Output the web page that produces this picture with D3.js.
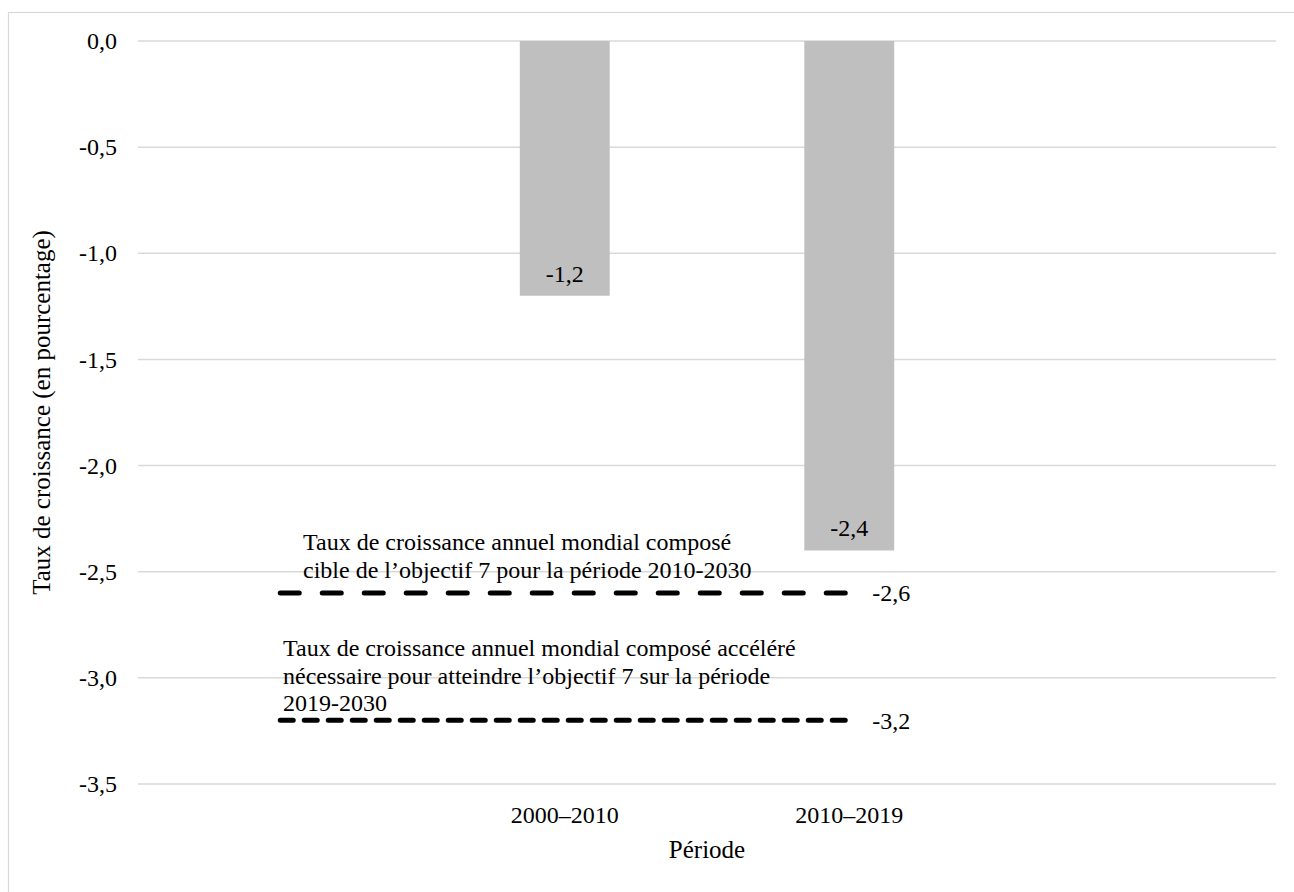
<!DOCTYPE html>
<html lang="fr">
<head>
    <meta charset="UTF-8">
    <title>Taux de croissance</title>
    <script src="https://d3js.org/d3.v7.min.js"></script>
    <style>
        body {
            margin: 0;
            background-color: white;
        }
        .grid line {
            stroke: #d9d9d9;
            stroke-width: 1.5;
        }
    </style>
</head>
<body>
    <div id="chart"></div>

    <script>
        // categories (the first and last slots are empty in the original)
        const categories = ["", "2000–2010", "2010–2019", " "];
        const barValues = [null, -1.2, -2.4, null];
        const target2030 = [-2.6, -2.6, -2.6, null];
        const accelerated = [-3.2, -3.2, -3.2, null];
        const yTicks = [0, -0.5, -1, -1.5, -2, -2.5, -3, -3.5];

        const note1 = ["Taux de croissance annuel mondial composé",
                       "cible de l’objectif 7 pour la période 2010-2030"];
        const note2 = ["Taux de croissance annuel mondial composé accéléré",
                       "nécessaire pour atteindre l’objectif 7 sur la période",
                       "2019-2030"];

        const FONT = "'Liberation Serif', 'Times New Roman', 'DejaVu Serif', serif";
        const width = 1294, height = 892;
        const plot = { left: 138, right: 1276, top: 41, bottom: 784 };
        const fmt = v => d3.format(".1f")(v).replace(".", ",").replace("−", "-");

        const svg = d3.select("#chart")
            .append("svg")
            .attr("width", width)
            .attr("height", height)
            .style("font-family", FONT);

        // chart border
        svg.append("rect")
            .attr("x", 8.5)
            .attr("y", 12.5)
            .attr("width", 1290)
            .attr("height", 900)
            .attr("fill", "none")
            .attr("stroke", "#d9d9d9")
            .attr("stroke-width", 1.2);

        const x = d3.scaleBand()
            .domain(d3.range(categories.length))
            .range([plot.left, plot.right])
            .paddingInner(0.684)
            .paddingOuter(0.342);

        const y = d3.scaleLinear()
            .domain([0, -3.5])
            .range([plot.top, plot.bottom]);

        const cx = i => x(i) + x.bandwidth() / 2;

        // gridlines
        svg.append("g")
            .attr("class", "grid")
            .selectAll("line")
            .data(yTicks)
            .join("line")
            .attr("x1", plot.left)
            .attr("x2", plot.right)
            .attr("y1", d => y(d))
            .attr("y2", d => y(d));

        // y axis labels
        const yAxis = svg.append("g")
            .attr("transform", `translate(${plot.left},0)`)
            .call(d3.axisLeft(y).tickValues(yTicks).tickFormat(fmt).tickSize(0).tickPadding(21));
        yAxis.select(".domain").remove();
        yAxis.attr("font-family", null).attr("font-size", null);
        yAxis.selectAll("text")
            .style("font-family", FONT)
            .style("font-size", "24px")
            .attr("fill", "#000");

        // x axis labels
        const xAxis = svg.append("g")
            .attr("transform", `translate(0,${plot.bottom})`)
            .call(d3.axisBottom(x).tickFormat(i => categories[i]).tickSize(0).tickPadding(22));
        xAxis.select(".domain").remove();
        xAxis.attr("font-family", null).attr("font-size", null);
        xAxis.selectAll("text")
            .style("font-family", FONT)
            .style("font-size", "24px")
            .attr("fill", "#000");

        // bars
        const bars = barValues.map((v, i) => ({ i, v })).filter(d => d.v != null);
        svg.append("g")
            .selectAll("rect")
            .data(bars)
            .join("rect")
            .attr("x", d => x(d.i))
            .attr("width", x.bandwidth())
            .attr("y", y(0))
            .attr("height", d => y(d.v) - y(0))
            .attr("fill", "#bfbfbf");

        svg.append("g")
            .selectAll("text")
            .data(bars)
            .join("text")
            .attr("x", d => cx(d.i))
            .attr("y", d => y(d.v) - 14)
            .attr("text-anchor", "middle")
            .style("font-family", FONT)
            .style("font-size", "24px")
            .text(d => fmt(d.v));

        // dashed target lines
        const lineSeries = [
            { values: target2030, dash: "19,23", note: note1, noteX: 303, noteY: 550 },
            { values: accelerated, dash: "13,11", note: note2, noteX: 283, noteY: 656 }
        ];

        const line = d3.line()
            .defined(d => d.v != null)
            .x(d => cx(d.i))
            .y(d => y(d.v));

        lineSeries.forEach(s => {
            const pts = s.values.map((v, i) => ({ i, v }));
            const valid = pts.filter(d => d.v != null);
            const last = valid[valid.length - 1];

            svg.append("path")
                .datum(pts)
                .attr("d", line)
                .attr("fill", "none")
                .attr("stroke", "#000")
                .attr("stroke-width", 5)
                .attr("stroke-linecap", "round")
                .attr("stroke-dasharray", s.dash);

            svg.append("text")
                .attr("x", cx(last.i) + 23)
                .attr("y", y(last.v))
                .attr("dy", "0.35em")
                .style("font-family", FONT)
                .style("font-size", "24px")
                .text(fmt(last.v));

            svg.append("text")
                .attr("x", s.noteX)
                .attr("y", s.noteY)
                .style("font-family", FONT)
                .style("font-size", "24px")
                .selectAll("tspan")
                .data(s.note)
                .join("tspan")
                .attr("x", s.noteX)
                .attr("dy", (d, k) => k === 0 ? 0 : 27.5)
                .text(d => d);
        });

        // axis titles
        svg.append("text")
            .attr("transform", `translate(50,${(plot.top + plot.bottom) / 2}) rotate(-90)`)
            .attr("text-anchor", "middle")
            .style("font-family", FONT)
            .style("font-size", "25px")
            .text("Taux de croissance (en pourcentage)");

        svg.append("text")
            .attr("x", (plot.left + plot.right) / 2)
            .attr("y", 858)
            .attr("text-anchor", "middle")
            .style("font-family", FONT)
            .style("font-size", "25px")
            .text("Période");
    </script>
</body>
</html>
